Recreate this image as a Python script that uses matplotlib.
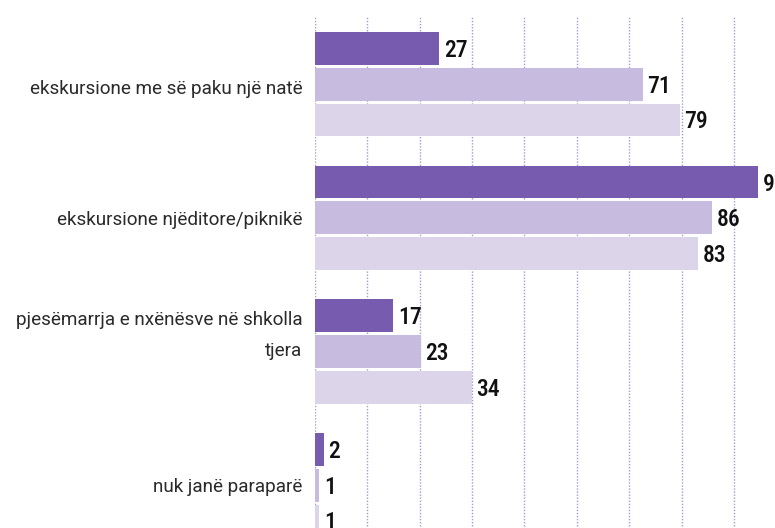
import matplotlib.pyplot as plt
import matplotlib.transforms as mtransforms
from matplotlib import font_manager
import numpy as np

categories = ['ekskursione me së paku një natë',
              'ekskursione njëditore/piknikë',
              'pjesëmarrja e nxënësve në shkolla\ntjera',
              'nuk janë paraparë']
series_a = [27, 96, 17, 2]
series_b = [71, 86, 23, 1]
series_c = [79, 83, 34, 1]
colors = ['#775BAF', '#C7BCDF', '#DCD5EA']

# pick a narrow font for the value labels if one is installed
names = set(f.name for f in font_manager.fontManager.ttflist)
narrow = 'DejaVu Sans'
for n in ['Roboto Condensed', 'Liberation Sans Narrow', 'DejaVu Sans Condensed',
          'Open Sans Condensed']:
    if n in names:
        narrow = n
        break

fig = plt.figure(figsize=(7.75, 5.28), dpi=100)
# axes run past the right and bottom edges, like the cropped original
ax = fig.add_axes([314.7 / 775, (528 - 552) / 528, 500 / 775, (552 - 16) / 528])

y = np.arange(len(categories))
step = 0.268
h = 0.245
for i, (vals, c) in enumerate(zip([series_a, series_b, series_c], colors)):
    pos = y + (i - 1) * step
    ax.barh(pos, vals, height=h, color=c, zorder=2)
    for p, v in zip(pos, vals):
        ax.text(v + 1.0, p + 0.015, str(v), va='center', ha='left',
                fontsize=17, fontweight='medium', color='#111111',
                family=[narrow, 'DejaVu Sans'], clip_on=False)

xmax = 500 / 4.62
ax.set_xlim(0, xmax)
ax.set_ylim(3.5, -0.51)
ax.set_xticks(np.arange(0, xmax, 52.4 / 4.62))
ax.set_xticklabels([])
ax.tick_params(length=0)
ax.grid(axis='x', color='#A898D4', linestyle=(0, (1, 1.2)), linewidth=1.0, zorder=0)
ax.set_yticks(y)
ax.set_yticklabels(categories, fontsize=13.6, family='Roboto', color='#2a2a2a',
                   ha='right', multialignment='right', linespacing=1.95)
ax.tick_params(axis='y', pad=9)
lab = ax.get_yticklabels()[2]
lab.set_transform(lab.get_transform() +
                  mtransforms.ScaledTranslation(0, 25 / 100, fig.dpi_scale_trans))
lab0 = ax.get_yticklabels()[0]
lab0.set_transform(lab0.get_transform() +
                   mtransforms.ScaledTranslation(0, -3 / 100, fig.dpi_scale_trans))
for s in ax.spines.values():
    s.set_visible(False)

fig.savefig('out.png', dpi=100)
